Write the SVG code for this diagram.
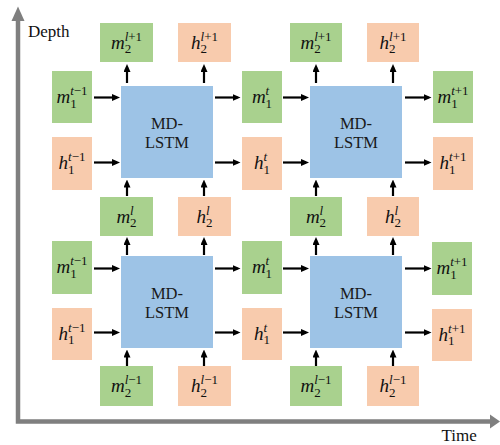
<svg xmlns="http://www.w3.org/2000/svg" width="500" height="445" viewBox="0 0 500 445">
  <defs>
    <style>
      text { font-family: "Liberation Serif", "DejaVu Serif", serif; }
      .m { fill: #a9d18e; }
      .h { fill: #f8cbad; }
      .cell { fill: #9dc3e6; }
      .lbl { font-size: 19px; font-style: italic; fill: #111; text-anchor: middle; }
      .sub { font-size: 13px; font-style: normal; }
      .sup { font-size: 13px; font-style: normal; }
      .it { font-style: italic; }
      .cellTxt { font-size: 16.5px; fill: #1a1a1a; text-anchor: middle; }
      .axisTxt { font-size: 17px; fill: #111; }
      .conn line { stroke: #000; stroke-width: 2.2; marker-end: url(#arr); }
    </style>
    <marker id="arr" markerUnits="userSpaceOnUse" markerWidth="8" markerHeight="7" refX="5" refY="3.5" orient="auto">
      <path d="M0,0 L8,3.5 L0,7 z" fill="#000"/>
    </marker>
  </defs>

  <rect width="500" height="445" fill="#fff"/>

  <!-- axes -->
  <g id="axes" fill="#7f7f7f">
    <path d="M18,19 V421.5 H491" fill="none" stroke="#7f7f7f" stroke-width="4.5"/>
    <polygon points="18,6.5 11.5,21 24.5,21"/>
    <polygon points="500,421.5 490,414.5 490,428.5"/>
    <text class="axisTxt" x="28" y="37">Depth</text>
    <text class="axisTxt" x="441.5" y="441">Time</text>
  </g>

  <!-- MD-LSTM cells -->
  <g id="cell-top-left">
    <rect class="cell" x="121" y="86" width="92" height="92"/>
    <text class="cellTxt" x="167" y="129.3">MD-</text>
    <text class="cellTxt" x="167" y="147.7">LSTM</text>
  </g>
  <g id="cell-top-right">
    <rect class="cell" x="310" y="86" width="92" height="92"/>
    <text class="cellTxt" x="356" y="129.3">MD-</text>
    <text class="cellTxt" x="356" y="147.7">LSTM</text>
  </g>
  <g id="cell-bottom-left">
    <rect class="cell" x="121" y="256" width="92" height="92"/>
    <text class="cellTxt" x="167" y="299.3">MD-</text>
    <text class="cellTxt" x="167" y="317.7">LSTM</text>
  </g>
  <g id="cell-bottom-right">
    <rect class="cell" x="310" y="256" width="92" height="92"/>
    <text class="cellTxt" x="356" y="299.3">MD-</text>
    <text class="cellTxt" x="356" y="317.7">LSTM</text>
  </g>

  <!-- top outputs -->
  <g id="m2-l1-a">
    <rect class="m" x="100" y="23" width="53" height="39"/>
    <text class="lbl" x="126.5" y="48.5">m<tspan class="sub" dy="4.5">2</tspan><tspan class="sup" dx="-6.5" dy="-12.5"><tspan class="it">l</tspan>+1</tspan></text>
  </g>
  <g id="h2-l1-a">
    <rect class="h" x="178" y="23" width="53" height="39"/>
    <text class="lbl" x="204.5" y="48.5">h<tspan class="sub" dy="4.5">2</tspan><tspan class="sup" dx="-6.5" dy="-12.5"><tspan class="it">l</tspan>+1</tspan></text>
  </g>
  <g id="m2-l1-b">
    <rect class="m" x="290" y="23" width="52" height="39"/>
    <text class="lbl" x="316" y="48.5">m<tspan class="sub" dy="4.5">2</tspan><tspan class="sup" dx="-6.5" dy="-12.5"><tspan class="it">l</tspan>+1</tspan></text>
  </g>
  <g id="h2-l1-b">
    <rect class="h" x="367" y="23" width="52" height="39"/>
    <text class="lbl" x="393" y="48.5">h<tspan class="sub" dy="4.5">2</tspan><tspan class="sup" dx="-6.5" dy="-12.5"><tspan class="it">l</tspan>+1</tspan></text>
  </g>

  <!-- upper row, left inputs -->
  <g id="m1-tm1-a">
    <rect class="m" x="52" y="71" width="40" height="52"/>
    <text class="lbl" x="72" y="103">m<tspan class="sub" dy="4.5">1</tspan><tspan class="sup" dx="-6.5" dy="-12.5"><tspan class="it">t</tspan>−1</tspan></text>
  </g>
  <g id="h1-tm1-a">
    <rect class="h" x="52" y="137" width="40" height="53"/>
    <text class="lbl" x="72" y="169">h<tspan class="sub" dy="4.5">1</tspan><tspan class="sup" dx="-6.5" dy="-12.5"><tspan class="it">t</tspan>−1</tspan></text>
  </g>

  <!-- upper row, middle -->
  <g id="m1-t-a">
    <rect class="m" x="242" y="71" width="40" height="52"/>
    <text class="lbl" x="262" y="103">m<tspan class="sub" dy="4.5">1</tspan><tspan class="sup" dx="-6.5" dy="-12.5"><tspan class="it">t</tspan></tspan></text>
  </g>
  <g id="h1-t-a">
    <rect class="h" x="242" y="137" width="40" height="53"/>
    <text class="lbl" x="262" y="169">h<tspan class="sub" dy="4.5">1</tspan><tspan class="sup" dx="-6.5" dy="-12.5"><tspan class="it">t</tspan></tspan></text>
  </g>

  <!-- upper row, right outputs -->
  <g id="m1-tp1-a">
    <rect class="m" x="433" y="71" width="40" height="52"/>
    <text class="lbl" x="453" y="103">m<tspan class="sub" dy="4.5">1</tspan><tspan class="sup" dx="-6.5" dy="-12.5"><tspan class="it">t</tspan>+1</tspan></text>
  </g>
  <g id="h1-tp1-a">
    <rect class="h" x="433" y="137" width="40" height="53"/>
    <text class="lbl" x="453" y="169">h<tspan class="sub" dy="4.5">1</tspan><tspan class="sup" dx="-6.5" dy="-12.5"><tspan class="it">t</tspan>+1</tspan></text>
  </g>

  <!-- middle layer -->
  <g id="m2-l-a">
    <rect class="m" x="100" y="197" width="53" height="39"/>
    <text class="lbl" x="126.5" y="222.5">m<tspan class="sub" dy="4.5">2</tspan><tspan class="sup" dx="-6.5" dy="-12.5"><tspan class="it">l</tspan></tspan></text>
  </g>
  <g id="h2-l-a">
    <rect class="h" x="178" y="197" width="53" height="39"/>
    <text class="lbl" x="204.5" y="222.5">h<tspan class="sub" dy="4.5">2</tspan><tspan class="sup" dx="-6.5" dy="-12.5"><tspan class="it">l</tspan></tspan></text>
  </g>
  <g id="m2-l-b">
    <rect class="m" x="290" y="197" width="52" height="39"/>
    <text class="lbl" x="316" y="222.5">m<tspan class="sub" dy="4.5">2</tspan><tspan class="sup" dx="-6.5" dy="-12.5"><tspan class="it">l</tspan></tspan></text>
  </g>
  <g id="h2-l-b">
    <rect class="h" x="367" y="197" width="52" height="39"/>
    <text class="lbl" x="393" y="222.5">h<tspan class="sub" dy="4.5">2</tspan><tspan class="sup" dx="-6.5" dy="-12.5"><tspan class="it">l</tspan></tspan></text>
  </g>

  <!-- lower row, left inputs -->
  <g id="m1-tm1-b">
    <rect class="m" x="52" y="241" width="40" height="53"/>
    <text class="lbl" x="72" y="273">m<tspan class="sub" dy="4.5">1</tspan><tspan class="sup" dx="-6.5" dy="-12.5"><tspan class="it">t</tspan>−1</tspan></text>
  </g>
  <g id="h1-tm1-b">
    <rect class="h" x="52" y="308" width="40" height="52"/>
    <text class="lbl" x="72" y="339.5">h<tspan class="sub" dy="4.5">1</tspan><tspan class="sup" dx="-6.5" dy="-12.5"><tspan class="it">t</tspan>−1</tspan></text>
  </g>

  <!-- lower row, middle -->
  <g id="m1-t-b">
    <rect class="m" x="242" y="241" width="40" height="53"/>
    <text class="lbl" x="262" y="273">m<tspan class="sub" dy="4.5">1</tspan><tspan class="sup" dx="-6.5" dy="-12.5"><tspan class="it">t</tspan></tspan></text>
  </g>
  <g id="h1-t-b">
    <rect class="h" x="242" y="308" width="40" height="52"/>
    <text class="lbl" x="262" y="339.5">h<tspan class="sub" dy="4.5">1</tspan><tspan class="sup" dx="-6.5" dy="-12.5"><tspan class="it">t</tspan></tspan></text>
  </g>

  <!-- lower row, right outputs -->
  <g id="m1-tp1-b">
    <rect class="m" x="432" y="242" width="40" height="53"/>
    <text class="lbl" x="452" y="274">m<tspan class="sub" dy="4.5">1</tspan><tspan class="sup" dx="-6.5" dy="-12.5"><tspan class="it">t</tspan>+1</tspan></text>
  </g>
  <g id="h1-tp1-b">
    <rect class="h" x="432" y="309" width="40" height="52"/>
    <text class="lbl" x="452" y="340.5">h<tspan class="sub" dy="4.5">1</tspan><tspan class="sup" dx="-6.5" dy="-12.5"><tspan class="it">t</tspan>+1</tspan></text>
  </g>

  <!-- bottom inputs -->
  <g id="m2-lm1-a">
    <rect class="m" x="100" y="366" width="53" height="40"/>
    <text class="lbl" x="126.5" y="392">m<tspan class="sub" dy="4.5">2</tspan><tspan class="sup" dx="-6.5" dy="-12.5"><tspan class="it">l</tspan>−1</tspan></text>
  </g>
  <g id="h2-lm1-a">
    <rect class="h" x="178" y="366" width="53" height="40"/>
    <text class="lbl" x="204.5" y="392">h<tspan class="sub" dy="4.5">2</tspan><tspan class="sup" dx="-6.5" dy="-12.5"><tspan class="it">l</tspan>−1</tspan></text>
  </g>
  <g id="m2-lm1-b">
    <rect class="m" x="290" y="366" width="52" height="40"/>
    <text class="lbl" x="316" y="392">m<tspan class="sub" dy="4.5">2</tspan><tspan class="sup" dx="-6.5" dy="-12.5"><tspan class="it">l</tspan>−1</tspan></text>
  </g>
  <g id="h2-lm1-b">
    <rect class="h" x="367" y="366" width="52" height="40"/>
    <text class="lbl" x="393" y="392">h<tspan class="sub" dy="4.5">2</tspan><tspan class="sup" dx="-6.5" dy="-12.5"><tspan class="it">l</tspan>−1</tspan></text>
  </g>

  <!-- connectors (line end = arrow tip - 3) -->
  <g id="connectors" class="conn">
    <!-- horizontal, upper row -->
    <line x1="94" y1="97.5" x2="117" y2="97.5"/>
    <line x1="94" y1="162.5" x2="117" y2="162.5"/>
    <line x1="215" y1="97.5" x2="237.5" y2="97.5"/>
    <line x1="215" y1="162.5" x2="237.5" y2="162.5"/>
    <line x1="283" y1="97.5" x2="306" y2="97.5"/>
    <line x1="283" y1="162.5" x2="306" y2="162.5"/>
    <line x1="405" y1="97.5" x2="428.5" y2="97.5"/>
    <line x1="405" y1="162.5" x2="428.5" y2="162.5"/>
    <!-- horizontal, lower row -->
    <line x1="94" y1="268.5" x2="117" y2="268.5"/>
    <line x1="94" y1="332.5" x2="117" y2="332.5"/>
    <line x1="215" y1="268.5" x2="237.5" y2="268.5"/>
    <line x1="215" y1="332.5" x2="237.5" y2="332.5"/>
    <line x1="283" y1="268.5" x2="306" y2="268.5"/>
    <line x1="283" y1="332.5" x2="306" y2="332.5"/>
    <line x1="405" y1="268.5" x2="428.5" y2="268.5"/>
    <line x1="405" y1="332.5" x2="428.5" y2="332.5"/>
    <!-- vertical: upper cells to top outputs -->
    <line x1="127" y1="83" x2="127" y2="67"/>
    <line x1="204" y1="83" x2="204" y2="67"/>
    <line x1="316" y1="83" x2="316" y2="67"/>
    <line x1="393" y1="83" x2="393" y2="67"/>
    <!-- vertical: middle layer into upper cells -->
    <line x1="127" y1="196" x2="127" y2="182.5"/>
    <line x1="204" y1="196" x2="204" y2="182.5"/>
    <line x1="316" y1="196" x2="316" y2="182.5"/>
    <line x1="393" y1="196" x2="393" y2="182.5"/>
    <!-- vertical: lower cells to middle layer -->
    <line x1="127" y1="255" x2="127" y2="240"/>
    <line x1="204" y1="255" x2="204" y2="240"/>
    <line x1="316" y1="255" x2="316" y2="240"/>
    <line x1="393" y1="255" x2="393" y2="240"/>
    <!-- vertical: bottom inputs into lower cells -->
    <line x1="127" y1="366" x2="127" y2="352.5"/>
    <line x1="204" y1="366" x2="204" y2="352.5"/>
    <line x1="316" y1="366" x2="316" y2="352.5"/>
    <line x1="393" y1="366" x2="393" y2="352.5"/>
  </g>
</svg>
